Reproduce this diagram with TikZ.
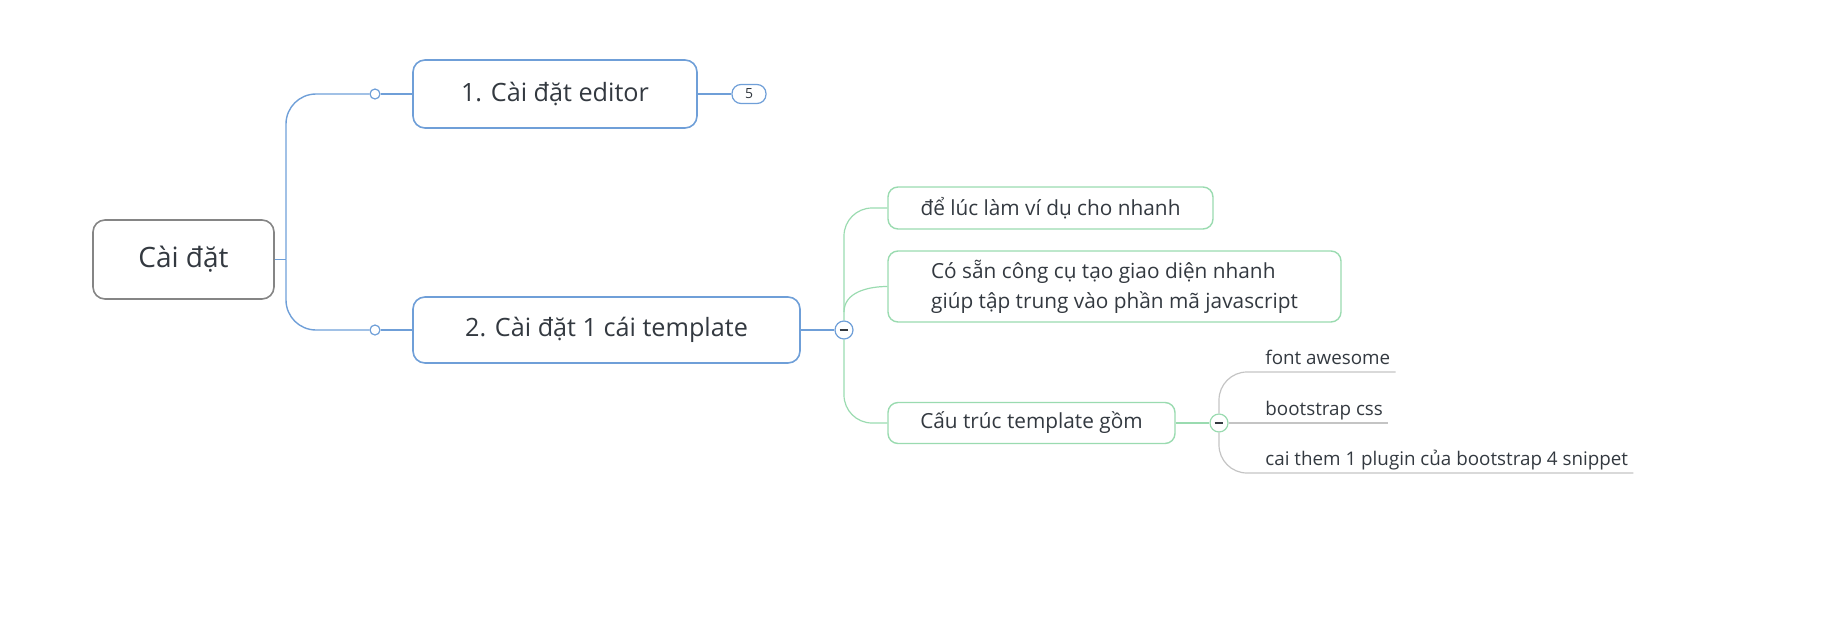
\documentclass[tikz,border=0pt]{standalone}
\usepackage{fontspec}
\setmainfont{Open Sans}
\usepackage{tikz}
\usetikzlibrary{positioning}
\definecolor{blueln}{HTML}{6F9FD8}
\definecolor{greenln}{HTML}{9ADBB0}
\definecolor{grayln}{HTML}{C4C4C4}
\definecolor{rootln}{HTML}{858585}
\definecolor{txt}{HTML}{333940}

\begin{document}
\begin{tikzpicture}[
        x=0.5pt, y=-0.5pt,
        every node/.style={text=txt},
        rootbox/.style={draw=rootln, line width=0.8pt, rounded corners=6pt, fill=white,
            font=\fontsize{14}{17}\selectfont},
        topicbox/.style={draw=blueln, line width=0.8pt, rounded corners=6pt, fill=white,
            font=\fontsize{12.6}{15}\selectfont},
        subbox/.style={draw=greenln, line width=0.7pt, rounded corners=5pt, fill=white,
            font=\fontsize{10.4}{15}\selectfont, align=left},
        leaf/.style={inner xsep=2.5pt, inner ysep=0pt, font=\fontsize{9.4}{11}\selectfont},
        dot/.style={circle, draw=blueln, fill=white, line width=0.6pt, inner sep=0pt, minimum size=5pt},
        fold/.style={circle, draw=#1, fill=white, line width=0.6pt, inner sep=0pt, minimum size=9pt,
            path picture={\draw[txt, line width=0.6pt] (path picture bounding box.center) +(-2.2pt,0) -- +(2.2pt,0);}},
        badge/.style={draw=blueln, line width=0.6pt, rounded corners=4.5pt, fill=white, inner sep=0pt,
            minimum width=17pt, minimum height=9.5pt, font=\fontsize{7}{8}\selectfont},
        blueline/.style={draw=blueln, line width=0.7pt},
        greenline/.style={draw=greenln, line width=0.6pt},
        grayline/.style={draw=grayln, line width=0.6pt},
    ]
    \useasboundingbox (0,0) rectangle (1821,632);

    \node[rootbox, minimum width=90.5pt, minimum height=39.5pt] (root) at (183.5,259.5) {Cài đặt};
    \coordinate (rj) at (286,259.5);
    \node[dot] (d1) at (375,94) {};
    \node[dot] (d2) at (375,330) {};
    \node[topicbox, minimum width=142pt, minimum height=34pt] (editor) at (555,94) {1. Cài đặt editor};
    \node[topicbox, minimum width=193.5pt, minimum height=33pt] (template) at (606.5,330) {2. Cài đặt 1 cái template};
    \node[badge] (count) at (749,94) {5};
    \node[fold=blueln] (fold1) at (844,330) {};

    \node[subbox, minimum width=162.5pt, minimum height=21pt] (quick) at (1050.5,208) {để lúc làm ví dụ cho nhanh};
    \node[subbox, minimum width=226.5pt, minimum height=35.5pt] (ui) at (1114.5,286.5)
        {Có sẵn công cụ tạo giao diện nhanh\\giúp tập trung vào phần mã javascript};
    \node[subbox, minimum width=143.5pt, minimum height=20.5pt] (struct) at (1031.5,423) {Cấu trúc template gồm};
    \node[fold=greenln] (fold2) at (1219,423) {};

    \node[leaf, anchor=base west] (fa) at (1260,364) {font awesome};
    \node[leaf, anchor=base west] (bs) at (1260,415) {bootstrap css};
    \node[leaf, anchor=base west] (snip) at (1260,465) {cai them 1 plugin của bootstrap 4 snippet};

    \draw[blueline] (root.east) -- (rj);
    \draw[blueline, rounded corners=15pt] (rj) |- (d1.west);
    \draw[blueline, rounded corners=15pt] (rj) |- (d2.west);
    \draw[blueline] (d1.east) -- (editor.west);
    \draw[blueline] (d2.east) -- (template.west);
    \draw[blueline] (editor.east) -- (count.west);
    \draw[blueline] (template.east) -- (fold1.west);

    \draw[greenline, rounded corners=14pt] (fold1.north) |- (quick.west);
    \draw[greenline, rounded corners=14pt] (fold1.south) |- (struct.west);
    \draw[greenline] ([yshift=9pt]fold1.center) to[out=90, in=180] (ui.west);
    \draw[greenline] (struct.east) -- (fold2.west);

    \draw[grayline, rounded corners=14pt] (fold2.north) |- ([yshift=-4pt]fa.base east);
    \draw[grayline, rounded corners=14pt] (fold2.south) |- ([yshift=-4pt]snip.base east);
    \draw[grayline] (fold2.east) -- ([yshift=-4pt]bs.base east);
\end{tikzpicture}
\end{document}
